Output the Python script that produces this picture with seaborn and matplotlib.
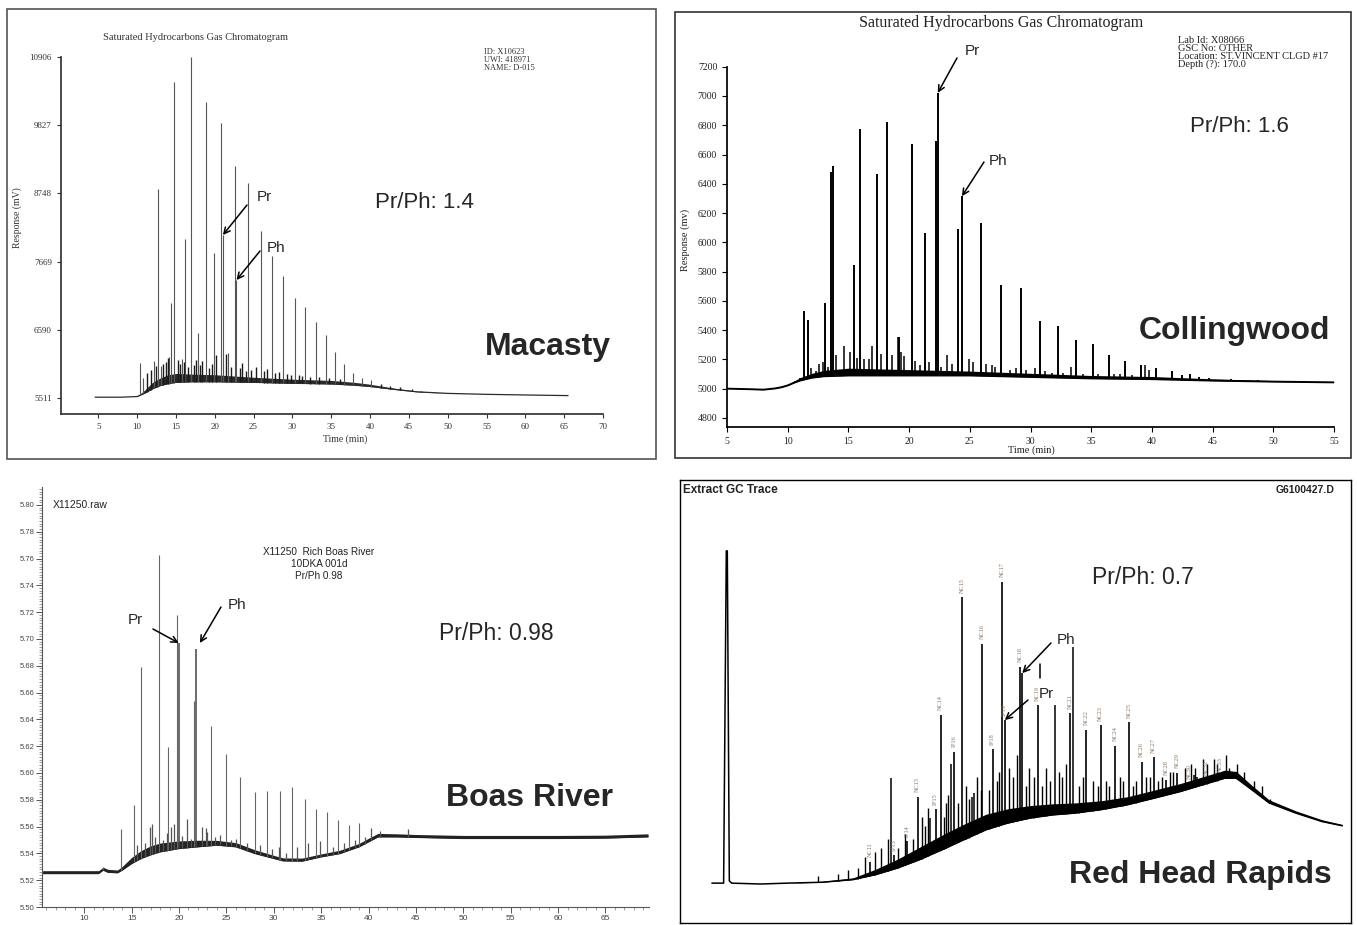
import numpy as np
import matplotlib
matplotlib.use("Agg")
import matplotlib.pyplot as plt
from matplotlib.patches import Rectangle
from matplotlib.lines import Line2D
from matplotlib.ticker import MultipleLocator, FormatStrFormatter
import seaborn as sns

W, H = 1357, 925

# =========================
# MACASTY (top left)
# =========================
mac_base_t = [4.6, 8.0, 10.0, 11.0, 12.0, 13.0, 14.0, 15.0, 17.0, 20.0, 25.0, 30.0,
              35.0, 38.0, 40.0, 43.0, 46.0, 50.0, 55.0, 60.0, 65.5]
mac_base_v = [5525, 5525, 5535, 5590, 5660, 5710, 5740, 5760, 5770, 5770, 5760, 5745,
              5735, 5715, 5695, 5650, 5610, 5585, 5570, 5560, 5550]
mac_band_v = [5525, 5525, 5535, 5640, 5760, 5830, 5880, 5900, 5890, 5880, 5840, 5810,
              5790, 5760, 5730, 5670, 5620, 5585, 5570, 5560, 5550]
mac_peak_t = [10.43, 10.77, 12.13, 12.65, 13.08, 14.06, 14.32, 14.8, 15.73, 16.17,
              16.89, 17.84, 18.87, 19.85, 20.75, 21.7, 22.55, 24.22, 25.9, 27.4,
              28.85, 30.3, 31.65, 33.0, 34.3, 35.5, 36.7, 37.8, 38.9, 40.1]
mac_peak_v = [6069, 5827, 6101, 8817, 6017, 6164, 7009, 10505, 6123, 8022,
              10901, 6534, 10199, 7800, 9857, 6218, 9186, 8908, 8153, 7765,
              7441, 7100, 6955, 6718, 6508, 6240, 6048, 5903, 5830, 5800]
mac_minor_t = [11.3, 11.8, 12.4, 13.4, 13.7, 14.0, 15.3, 15.5, 16.0, 16.6, 17.3, 17.6,
               18.1, 18.4, 19.3, 19.6, 20.2, 21.5, 22.1, 23.2, 23.5, 24.0, 24.7, 25.3,
               26.3, 26.7, 27.8, 28.3, 29.3, 29.8, 30.8, 31.2, 32.3, 33.4, 34.7, 36.1,
               41.4, 42.6, 43.8, 45.4, 46.5]
mac_minor_v = [5900, 5960, 6020, 6050, 6080, 6150, 6120, 6050, 6080, 6000, 6040, 6120,
               6030, 6090, 5990, 6050, 6190, 6210, 6010, 5990, 6060, 5940, 5960, 6000,
               5940, 5970, 5900, 5920, 5890, 5870, 5880, 5860, 5850, 5840, 5830, 5820,
               5740, 5700, 5680, 5650, 5620]
mac_pr_t, mac_pr_v = 21.05, 8090
mac_ph_t, mac_ph_v = 22.8, 7378
mac_yticks = [5511, 6590, 7669, 8748, 9827, 10906]

# =========================
# COLLINGWOOD (top right)
# =========================
col_base_t = [5.0, 7.0, 8.0, 9.0, 9.5, 10.0, 10.5, 11.0, 11.5, 12.0, 13.0, 15.0,
              20.0, 25.0, 30.0, 35.0, 40.0, 45.0, 50.0, 55.0]
col_base_v = [5000, 4996, 4993, 5002, 5010, 5022, 5040, 5055, 5065, 5075, 5085, 5090,
              5090, 5090, 5080, 5070, 5065, 5055, 5048, 5043]
col_band_v = [5000, 4996, 4993, 5003, 5013, 5027, 5050, 5075, 5090, 5105, 5125, 5140,
              5130, 5120, 5105, 5090, 5083, 5067, 5055, 5048]
col_peak_t = [11.35, 11.7, 13.09, 13.6, 13.7, 15.47, 15.94, 17.35, 18.14, 19.15,
              20.23, 21.28, 22.18, 24.02, 25.9, 27.56, 29.22, 30.81, 32.29, 33.74,
              35.14, 36.48, 37.82, 39.12, 40.3, 41.64, 42.5, 43.1, 43.9, 44.7, 46.5, 48.7]
col_peak_v = [5531, 5472, 5588, 6480, 6520, 5843, 6771, 6465, 6823, 5350,
              6675, 6067, 6691, 6094, 6135, 5706, 5690, 5463, 5426, 5335,
              5303, 5232, 5189, 5160, 5141, 5121, 5096, 5098, 5080, 5073, 5064, 5057]
col_minor_t = [10.6, 11.0, 11.9, 12.3, 12.6, 12.9, 13.3, 14.0, 14.6, 15.1, 15.7, 16.3,
               16.7, 16.95, 17.7, 18.6, 19.05, 19.3, 19.6, 20.5, 20.9, 21.6, 22.6, 23.1,
               23.5, 24.9, 25.3, 26.3, 26.8, 27.1, 28.3, 28.8, 29.6, 30.4, 31.2, 31.8,
               32.7, 33.3, 34.3, 35.6, 36.9, 37.4, 38.4, 39.4, 39.8]
col_minor_v = [5050, 5070, 5140, 5120, 5170, 5180, 5150, 5230, 5290, 5250, 5210, 5200,
               5200, 5290, 5240, 5230, 5350, 5250, 5220, 5190, 5160, 5180, 5150, 5230,
               5170, 5200, 5180, 5170, 5160, 5150, 5130, 5140, 5130, 5140, 5120, 5110,
               5110, 5150, 5100, 5100, 5100, 5100, 5090, 5160, 5130]
col_pr_t, col_pr_v = 22.36, 7021
col_ph_t, col_ph_v = 24.35, 6315

# =========================
# BOAS RIVER (bottom left)
# =========================
boas_base_t = [5.6, 8.0, 11.5, 12.0, 12.5, 13.5, 14.0, 15.0, 16.0, 17.0, 18.0, 20.0,
               22.0, 24.0, 26.0, 28.0, 30.0, 31.0, 33.0, 35.0, 37.0, 39.0, 40.0, 41.0,
               43.0, 45.0, 50.0, 55.0, 60.0, 65.0, 69.5]
boas_base_v = [5.525, 5.525, 5.525, 5.5276, 5.526, 5.5256, 5.5276, 5.5325, 5.5363, 5.539,
               5.5412, 5.5437, 5.545, 5.5462, 5.545, 5.540, 5.5363, 5.5345, 5.5343, 5.5375,
               5.540, 5.545, 5.5487, 5.5524, 5.5524, 5.552, 5.5512, 5.5512, 5.5512, 5.5515,
               5.5524]
boas_band_v = [5.5271, 5.5271, 5.5271, 5.5296, 5.5281, 5.5276, 5.5302, 5.537, 5.5421, 5.5456,
               5.5477, 5.5493, 5.5498, 5.5497, 5.548, 5.5427, 5.5385, 5.5366, 5.5365, 5.5396,
               5.5424, 5.5474, 5.5513, 5.5549, 5.5546, 5.5541, 5.5534, 5.5534, 5.5534, 5.5536,
               5.5546]
boas_peak_t = [13.93, 15.27, 15.94, 17.9, 18.88, 19.8, 21.56, 23.35, 24.91, 26.47,
               27.99, 29.33, 30.71, 31.96, 33.3, 34.46, 35.67, 36.79, 37.95, 39.02]
boas_peak_v = [5.5579, 5.5763, 5.6793, 5.7626, 5.6197, 5.7178, 5.654, 5.6354, 5.6138, 5.5969,
               5.5857, 5.5869, 5.5869, 5.5899, 5.5807, 5.5728, 5.5708, 5.5646, 5.5609, 5.5628]
boas_minor_t = [12.0, 15.6, 16.4, 16.9, 17.2, 17.5, 18.3, 18.7, 19.2, 19.5, 20.3, 20.8,
                21.3, 22.4, 22.8, 23.0, 23.8, 24.3, 25.5, 26.0, 27.2, 28.5, 29.8, 30.6,
                31.3, 32.5, 33.6, 34.9, 36.2, 37.4, 38.6, 39.6, 40.3, 41.2, 44.2]
boas_minor_v = [5.530, 5.546, 5.548, 5.560, 5.562, 5.552, 5.550, 5.555, 5.560, 5.562, 5.553, 5.566,
                5.551, 5.560, 5.559, 5.556, 5.552, 5.554, 5.550, 5.551, 5.548, 5.546, 5.543, 5.545,
                5.540, 5.545, 5.548, 5.549, 5.545, 5.548, 5.550, 5.552, 5.559, 5.557, 5.558]
boas_pr_t, boas_pr_v = 19.97, 5.697
boas_ph_t, boas_ph_v = 21.83, 5.6925

# =========================
# RED HEAD RAPIDS (bottom right), arbitrary units 0-100
# =========================
rhr_base_x = [4.75, 6.5, 6.9, 7.05, 7.35, 7.7, 12.0, 16.0, 21.2, 25.8, 29.1, 32.4, 35.7,
              39.0, 42.3, 45.6, 48.9, 52.2, 55.5, 58.8, 62.8, 66.7, 70.7, 74.6, 77.9,
              81.2, 82.9, 85.2, 87.8, 91.8, 95.7, 98.7]
rhr_base_y = [9.0, 9.0, 84.0, 84.0, 9.5, 9.0, 8.8, 9.0, 9.2, 9.8, 10.9, 12.4, 14.3,
              16.5, 18.8, 21.05, 22.6, 23.7, 24.4, 24.8, 25.6, 26.7, 28.2, 29.7, 31.2,
              32.7, 32.7, 30.1, 27.1, 24.8, 22.9, 21.95]
rhr_band_y = [9.0, 9.0, 84.0, 84.0, 9.5, 9.0, 8.8, 9.0, 9.4, 10.2, 12.1, 14.4, 17.1,
              19.8, 22.3, 24.55, 25.8, 26.5, 26.9, 27.1, 27.6, 28.5, 30.0, 31.5, 33.0,
              34.5, 34.2, 31.1, 27.8, 25.3, 23.3, 22.25]
rhr_lab_x = [28.3, 31.9, 33.9, 35.4, 38.1, 38.85, 40.9, 42.0, 45.05, 46.6, 48.0, 48.4,
             50.7, 51.0, 53.3, 58.1, 60.55, 62.7, 64.8, 66.9, 68.8, 70.6, 72.4, 74.1,
             75.9, 78.5, 80.5]
rhr_lab_y = [13.8, 15.3, 18.4, 28.5, 25.7, 47.0, 38.7, 73.5, 63.0, 39.2, 77.0, 45.8,
             57.9, 56.4, 49.2, 47.4, 43.6, 44.7, 40.0, 45.3, 36.4, 37.4, 32.3, 33.9,
             31.5, 32.3, 33.0]
rhr_labels = ["NC11", "IP13", "IP14", "NC13", "IP15", "NC14", "IP16", "NC15", "NC16",
              "IP18", "NC17", "IP19", "NC18", "IP20", "NC19", "NC21", "NC22", "NC23",
              "NC24", "NC25", "NC26", "NC27", "NC28", "NC29", "NC30", "NC32", "NC33"]
rhr_peak_x = [31.5, 37.3, 40.4, 43.5, 43.8, 55.9, 58.6, 76.6, 77.0]
rhr_peak_y = [32.7, 23.6, 35.9, 28.4, 29.3, 49.2, 62.2, 33.4, 33.0]
rhr_minor_x = [20.5, 23.5, 25.0, 26.5, 27.5, 29.0, 30.0, 31.0, 32.5, 33.5, 34.7, 36.0,
               36.5, 37.0, 39.3, 39.6, 40.0, 41.5, 42.6, 43.0, 44.3, 44.8, 46.0, 47.2,
               47.6, 49.0, 49.7, 50.2, 51.6, 52.0, 52.7, 53.9, 54.5, 55.2, 56.5, 57.0,
               57.6, 59.5, 60.1, 61.5, 62.3, 63.5, 64.0, 65.5, 66.0, 67.5, 68.0, 69.5,
               70.0, 71.3, 71.8, 73.0, 73.5, 75.3, 76.2, 76.8, 78.0, 78.5, 79.6, 80.0,
               81.3, 81.8, 83.0, 84.0, 85.5, 86.8, 88.0]
rhr_minor_y = [10.5, 11, 12, 12.5, 15, 16, 17, 19, 17, 20, 19, 24,
               22, 26, 24, 27, 29, 27, 31, 28, 33, 30, 30, 32,
               34, 35, 33, 38, 31, 35, 33, 31, 35, 32, 34, 33,
               36, 31, 33, 32, 31, 32, 31, 33, 32, 31, 32, 33,
               33, 32, 33, 34, 34, 35, 36, 35, 37, 36, 37, 36,
               38, 35, 36, 34, 32, 31, 28]

# =========================
# HELPERS
# =========================
SERIF = ["Liberation Serif", "DejaVu Serif"]
SANS = ["Liberation Sans", "DejaVu Sans"]


def fig_box(l, t, r, b):
    return [l / W, 1 - b / H, (r - l) / W, (b - t) / H]


def ftext(px, py, s, **kw):
    fig.text(px / W, 1 - py / H, s, **kw)


def draw_trace(ax, bt, bv, band, pt, pv, color, peak_color, lw_base, lw_peak):
    ax.fill_between(bt, bv, band, color=color, lw=0)
    sns.lineplot(x=bt, y=bv, ax=ax, color=color, lw=lw_base, sort=False, estimator=None)
    foot = np.interp(pt, bt, bv)
    ax.vlines(pt, foot, pv, color=peak_color, lw=lw_peak)


def arrow(ax, tip_x, tip_y, tail_px, tail_py, shrink=0):
    ax.annotate("", xy=(tip_x, tip_y), xycoords="data",
                xytext=(tail_px, H - tail_py), textcoords="figure pixels",
                arrowprops=dict(arrowstyle="->", color="black", lw=1.1,
                                shrinkA=0, shrinkB=shrink, mutation_scale=11))


sns.set_theme(style="white")
plt.rcParams["font.family"] = SANS

fig = plt.figure(figsize=(W / 100, H / 100), dpi=100)

# =========================
# PANEL 1: MACASTY
# =========================
fig.patches.append(Rectangle((7 / W, 1 - 459 / H), 649 / W, 450 / H, transform=fig.transFigure,
                             fill=False, edgecolor="#555555", lw=1.2))
ax1 = fig.add_axes(fig_box(61, 57, 603, 414))
draw_trace(ax1, mac_base_t, mac_base_v, mac_band_v, mac_peak_t, mac_peak_v,
           "#2a2a2a", "#555555", 0.9, 0.8)
ax1.vlines(mac_minor_t, np.interp(mac_minor_t, mac_base_t, mac_base_v), mac_minor_v,
           color="#1a1a1a", lw=1.0)
ax1.vlines([mac_pr_t, mac_ph_t], np.interp([mac_pr_t, mac_ph_t], mac_base_t, mac_base_v),
           [mac_pr_v, mac_ph_v], color="#555555", lw=0.8)
ax1.set_xlim(0.2, 70)
ax1.set_ylim(5259, 10906)
ax1.set_xticks(range(5, 71, 5))
ax1.set_yticks(mac_yticks)
sns.despine(ax=ax1)
for s in ax1.spines.values():
    s.set_color("#333333")
ax1.tick_params(direction="out", length=3, width=0.8, color="#333333", labelsize=6.5,
                labelcolor="#333333", bottom=True, left=True)
for lab in ax1.get_xticklabels() + ax1.get_yticklabels():
    lab.set_family(SERIF)
ax1.set_xlabel("")
ax1.set_ylabel("")
ftext(345, 439, "Time (min)", family=SERIF, fontsize=7, color="#333333", ha="center", va="center")
ftext(17, 218, "Response (mV)", family=SERIF, fontsize=7, color="#333333", ha="center",
      va="center", rotation=90)
ftext(103, 38, "Saturated Hydrocarbons Gas Chromatogram", family=SERIF, fontsize=7.5,
      color="#333333", ha="left", va="center")
ftext(484, 48, "ID: X10623\nUWI: 418971\nNAME: D-015", family=SERIF, fontsize=6,
      color="#333333", ha="left", va="top", linespacing=1.0)
arrow(ax1, mac_pr_t, mac_pr_v, 247, 205)
arrow(ax1, mac_ph_t, mac_ph_v, 260, 251)
ftext(264, 197, "Pr", fontsize=11, ha="center", va="center")
ftext(276, 248, "Ph", fontsize=11, ha="center", va="center")
ftext(424, 202, "Pr/Ph: 1.4", fontsize=16, ha="center", va="center")
ftext(548, 347, "Macasty", fontsize=23, fontweight="bold", ha="center", va="center")

# =========================
# PANEL 2: COLLINGWOOD
# =========================
fig.patches.append(Rectangle((675 / W, 1 - 458 / H), 676 / W, 446 / H, transform=fig.transFigure,
                             fill=False, edgecolor="#333333", lw=1.2))
ax2 = fig.add_axes(fig_box(727, 66.7, 1334, 427))
draw_trace(ax2, col_base_t, col_base_v, col_band_v, col_peak_t, col_peak_v,
           "black", "black", 1.4, 1.4)
ax2.vlines(col_minor_t, np.interp(col_minor_t, col_base_t, col_base_v), col_minor_v,
           color="black", lw=1.1)
ax2.vlines([col_pr_t, col_ph_t], np.interp([col_pr_t, col_ph_t], col_base_t, col_base_v),
           [col_pr_v, col_ph_v], color="black", lw=1.4)
ax2.set_xlim(5, 55)
ax2.set_ylim(4738, 7200)
ax2.set_xticks(range(5, 56, 5))
ax2.set_yticks(range(4800, 7201, 200))
sns.despine(ax=ax2)
for s in ax2.spines.values():
    s.set_color("black")
ax2.tick_params(direction="out", length=3.5, width=0.8, color="black", labelsize=7,
                labelcolor="#222222", bottom=True, left=True)
for lab in ax2.get_xticklabels() + ax2.get_yticklabels():
    lab.set_family(SERIF)
ax2.set_xlabel("")
ax2.set_ylabel("")
ftext(1031, 450, "Time (min)", family=SERIF, fontsize=7.5, color="#222222", ha="center", va="center")
ftext(685, 240, "Response (mv)", family=SERIF, fontsize=7.5, color="#222222", ha="center",
      va="center", rotation=90)
ftext(1001, 23, "Saturated Hydrocarbons Gas Chromatogram", family=SERIF, fontsize=11.5,
      color="#222222", ha="center", va="center")
ftext(1178, 36, "Lab Id: X08066\nGSC No: OTHER\nLocation: ST.VINCENT CLGD #17\nDepth (?): 170.0",
      family=SERIF, fontsize=7.5, color="#222222", ha="left", va="top", linespacing=0.85)
arrow(ax2, col_pr_t, col_pr_v, 957, 58)
arrow(ax2, col_ph_t, col_ph_v, 984, 162)
ftext(972, 51, "Pr", fontsize=11, ha="center", va="center")
ftext(998, 161, "Ph", fontsize=11, ha="center", va="center")
ftext(1239, 126, "Pr/Ph: 1.6", fontsize=16, ha="center", va="center")
ftext(1234, 331, "Collingwood", fontsize=23, fontweight="bold", ha="center", va="center")

# =========================
# PANEL 3: BOAS RIVER
# =========================
ax3 = fig.add_axes(fig_box(42, 487, 649, 907))
draw_trace(ax3, boas_base_t, boas_base_v, boas_band_v, boas_peak_t, boas_peak_v,
           "#222222", "#666666", 1.0, 0.8)
ax3.vlines(boas_minor_t, np.interp(boas_minor_t, boas_base_t, boas_base_v), boas_minor_v,
           color="#555555", lw=0.9)
ax3.vlines([boas_pr_t, boas_ph_t], np.interp([boas_pr_t, boas_ph_t], boas_base_t, boas_base_v),
           [boas_pr_v, boas_ph_v], color="#444444", lw=1.1)
ax3.set_xlim(5.54, 69.6)
ax3.set_ylim(5.50, 5.8134)
ax3.xaxis.set_minor_locator(MultipleLocator(1))
ax3.yaxis.set_major_locator(MultipleLocator(0.02))
ax3.yaxis.set_minor_locator(MultipleLocator(0.002))
ax3.yaxis.set_major_formatter(FormatStrFormatter("%.2f"))
ax3.set_xticks(range(10, 66, 5))
sns.despine(ax=ax3)
for s in ax3.spines.values():
    s.set_color("#555555")
    s.set_linewidth(0.8)
ax3.tick_params(which="major", direction="out", length=4, width=0.7, color="#555555",
                labelsize=5.5, labelcolor="#444444", bottom=True, left=True, pad=1.5)
ax3.tick_params(which="minor", direction="out", length=2, width=0.5, color="#777777",
                bottom=True, left=True)
ax3.tick_params(axis="x", labelsize=6)
ax3.set_xlabel("")
ax3.set_ylabel("")
ftext(53, 505, "X11250.raw", fontsize=7.5, color="#222222", ha="left", va="center")
ftext(319, 564, "X11250  Rich Boas River\n10DKA 001d\nPr/Ph 0.98", fontsize=7.2,
      color="#222222", ha="center", va="center", linespacing=1.3)
arrow(ax3, boas_pr_t, boas_pr_v, 153, 629)
arrow(ax3, boas_ph_t, boas_ph_v, 221, 607, shrink=5)
ftext(135, 620, "Pr", fontsize=11, ha="center", va="center")
ftext(237, 605, "Ph", fontsize=11, ha="center", va="center")
ftext(496, 634, "Pr/Ph: 0.98", fontsize=16.5, ha="center", va="center")
ftext(530, 798, "Boas River", fontsize=23, fontweight="bold", ha="center", va="center")

# =========================
# PANEL 4: RED HEAD RAPIDS
# =========================
ax4 = fig.add_axes(fig_box(680, 480, 1351, 923))
ax4.fill_between(rhr_base_x, rhr_base_y, rhr_band_y, color="black", lw=0)
sns.lineplot(x=rhr_base_x, y=rhr_base_y, ax=ax4, color="black", lw=1.1, sort=False, estimator=None)
ax4.vlines(rhr_lab_x, np.interp(rhr_lab_x, rhr_base_x, rhr_base_y), rhr_lab_y, color="black", lw=1.2)
ax4.vlines(rhr_peak_x, np.interp(rhr_peak_x, rhr_base_x, rhr_base_y), rhr_peak_y, color="black", lw=1.1)
ax4.vlines(rhr_minor_x, np.interp(rhr_minor_x, rhr_base_x, rhr_base_y), rhr_minor_y, color="black", lw=1.0)
for x, y, s in zip(rhr_lab_x, rhr_lab_y, rhr_labels):
    if s == "IP20":
        # hidden under the NC18 label and the Ph arrow in the original trace
        continue
    ax4.text(x, y + 1.0, s, rotation=90, fontsize=4.5, color="#8a7560", ha="center", va="bottom",
             family=SERIF)
ax4.set_xlim(0, 100)
ax4.set_ylim(0, 100)
ax4.set_xticks([])
ax4.set_yticks([])
ax4.set_xlabel("")
ax4.set_ylabel("")
for s in ax4.spines.values():
    s.set_color("black")
    s.set_linewidth(1.0)
i_pr = rhr_labels.index("IP19")
i_ph = rhr_labels.index("IP20")
arrow(ax4, rhr_lab_x[i_ph], rhr_lab_y[i_ph], 1051, 643)
arrow(ax4, rhr_lab_x[i_pr], rhr_lab_y[i_pr], 1028, 700)
ftext(1066, 640, "Ph", fontsize=11, ha="center", va="center")
ftext(1046, 694, "Pr", fontsize=11, ha="center", va="center")
fig.add_artist(Line2D([1040 / W, 1040 / W], [1 - 664 / H, 1 - 678 / H], color="black", lw=1.1))
ftext(683, 490, "Extract GC Trace", fontsize=8.5, fontweight="bold", color="#222222",
      ha="left", va="center")
ftext(1334, 490, "G6100427.D", fontsize=7.5, fontweight="bold", color="#222222",
      ha="right", va="center")
ftext(1143, 578, "Pr/Ph: 0.7", fontsize=16.5, ha="center", va="center")
ftext(1200, 875, "Red Head Rapids", fontsize=23, fontweight="bold", ha="center", va="center")

fig.savefig("out.png", dpi=100)
